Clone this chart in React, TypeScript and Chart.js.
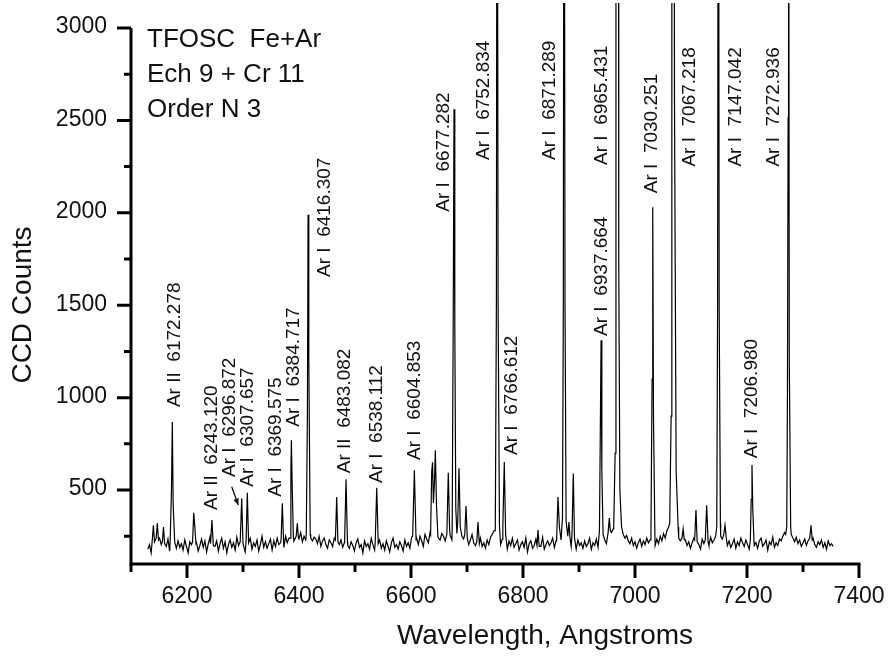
import React, { useEffect, useRef } from "react";
import { Chart, registerables } from "chart.js";

Chart.register(...registerables);

// ---- axis ranges & ticks ----
const xMin = 6100;
const xMax = 7400;
const yMin = 100;
const yMax = 3000;
const xMajorTicks = [6200, 6400, 6600, 6800, 7000, 7200, 7400];
const xMinorTicks = [6100, 6300, 6500, 6700, 6900, 7100, 7300];
const yMajorTicks = [500, 1000, 1500, 2000, 2500, 3000];
const yMinorTicks = [250, 750, 1250, 1750, 2250, 2750];

// ---- continuum (noise) counts, sampled every 3 Å starting at 6130 Å ----
const baselineStart = 6130;
const baselineStep = 3;
const baselineCounts = [
  180, 205, 160, 230, 250, 215, 190, 240, 205, 175, 220, 195, 235, 170, 210, 245, 200, 185, 225, 190,
  210, 175, 230, 195, 160, 220, 205, 240, 185, 215, 170, 200, 235, 190, 225, 165, 210, 245, 180, 205,
  195, 225, 170, 210, 240, 185, 220, 160, 205, 230, 190, 215, 175, 245, 200, 185, 230, 210, 165, 220,
  200, 240, 180, 215, 195, 230, 170, 205, 250, 190, 220, 185, 210, 235, 175, 225, 195, 240, 205, 215,
  230, 190, 250, 215, 240, 205, 260, 225, 245, 210, 235, 270, 220, 250, 230, 215, 260, 240, 225, 245,
  235, 210, 250, 195, 225, 240, 205, 185, 230, 215, 195, 240, 175, 220, 205, 230, 190, 215, 245, 200,
  185, 220, 200, 170, 215, 235, 190, 205, 160, 225, 195, 210, 180, 240, 205, 175, 220, 195, 230, 185,
  210, 175, 225, 195, 165, 215, 240, 190, 205, 180, 220, 200, 170, 230, 195, 215, 185, 245, 210, 225,
  240, 205, 250, 225, 195, 260, 235, 215, 270, 245, 225, 255, 280, 240, 230, 265, 250, 225, 260, 240,
  255, 230, 275, 245, 265, 240, 220, 250, 235, 215, 245, 205, 230, 260, 215, 200, 235, 210, 240, 195,
  215, 185, 230, 205, 245, 260, 280, 235, 250, 220, 205, 235, 195, 215, 180, 225, 200, 240, 190, 210,
  230, 175, 205, 220, 190, 240, 165, 210, 225, 185, 200, 235, 170, 215, 195, 245, 180, 205, 225, 200,
  215, 240, 190, 225, 260, 245, 230, 270, 250, 225, 210, 240, 195, 220, 205, 180, 230, 200, 215, 185,
  225, 195, 210, 240, 180, 215, 200, 235, 190, 220, 245, 205, 230, 210, 255, 235, 270, 290, 310, 330,
  320, 300, 275, 260, 240, 255, 225, 210, 240, 200, 220, 185, 215, 235, 195, 225, 205, 240, 215, 230,
  245, 220, 200, 235, 210, 250, 225, 265, 240, 280, 300, 320, 310, 290, 270, 255, 240, 225, 250, 215,
  230, 200, 220, 185, 215, 240, 195, 225, 205, 180, 235, 210, 190, 225, 200, 245, 215, 230, 250, 270,
  280, 250, 235, 215, 245, 200, 225, 190, 210, 235, 185, 220, 200, 240, 215, 195, 230, 205, 180, 225,
  235, 200, 215, 185, 225, 240, 195, 210, 230, 175, 220, 205, 245, 190, 215, 200, 235, 225, 250, 270,
  290, 300, 285, 260, 240, 220, 245, 210, 230, 195, 215, 235, 200, 225, 185, 210, 240, 205, 190, 220,
  205, 230, 190, 215, 180, 225, 200, 210, 195,
];

// ---- emission line profiles: [wavelength Å, counts] ----
const lineProfiles: number[][][] = [
  [[6138, 230], [6140, 310], [6142, 220]],
  [[6145, 240], [6147, 320], [6149, 230]],
  [[6156, 220], [6158, 300], [6160, 210]],
  [[6170, 230], [6172.3, 500], [6173.8, 868], [6175.3, 420], [6178, 220]],
  [[6210, 220], [6212, 377], [6214, 300], [6216, 210]],
  [[6242, 210], [6244.5, 338], [6247, 200]],
  [[6295, 220], [6297.7, 456], [6300, 210]],
  [[6305.5, 220], [6307.7, 485], [6310, 215]],
  [[6368, 230], [6370.2, 429], [6372.5, 220]],
  [[6384, 240], [6385.5, 600], [6386.4, 770], [6388, 500], [6390, 240]],
  [[6395, 250], [6397, 320], [6399, 240]],
  [[6413, 260], [6415, 900], [6416.2, 1990], [6417.5, 1200], [6420, 260]],
  [[6465, 230], [6467.3, 463], [6469.5, 220]],
  [[6481.5, 230], [6484, 559], [6486.5, 220]],
  [[6536, 210], [6538.8, 512], [6541.5, 210]],
  [[6603, 250], [6606, 607], [6609, 230]],
  [[6635, 260], [6637, 600], [6638.5, 650], [6640, 430], [6642, 550], [6643.5, 715], [6645.5, 420], [6648, 250]],
  [[6664, 260], [6666.6, 593], [6669, 280]],
  [[6673.5, 280], [6675.5, 1500], [6676.8, 2560], [6678.2, 1400], [6680, 400]],
  [[6683.5, 330], [6685.7, 618], [6688, 300]],
  [[6696, 260], [6698.2, 413], [6700.5, 240]],
  [[6717.5, 220], [6719.6, 327], [6722, 210]],
  [[6750.5, 280], [6752.5, 1515], [6753.8, 5500], [6755.5, 1515], [6758, 300]],
  [[6764, 300], [6766.6, 652], [6769, 260]],
  [[6825, 200], [6826.8, 284], [6829, 195]],
  [[6860, 230], [6862.5, 462], [6865, 300]],
  [[6870.5, 350], [6872, 1515], [6873.4, 5500], [6875, 1515], [6877, 330]],
  [[6880, 250], [6882, 327], [6884, 240]],
  [[6887.5, 260], [6889.8, 590], [6892, 240]],
  [[6936.5, 280], [6938, 800], [6939.4, 1310], [6940.8, 600], [6943, 260]],
  [[6952, 270], [6954.1, 348], [6956, 280]],
  [[6962, 300], [6964.5, 700], [6966, 6000], [6970, 6000], [6971, 1714], [6973, 500], [6976, 300]],
  [[7028.5, 280], [7030.5, 1100], [7031.7, 2030], [7033, 900], [7035.5, 260]],
  [[7062, 320], [7064.5, 900], [7065.8, 6000], [7069, 6000], [7070.5, 2616], [7072, 1590], [7073.5, 600], [7077, 300]],
  [[7084, 240], [7086, 290], [7088, 230]],
  [[7106.5, 230], [7108.9, 392], [7111, 220]],
  [[7125.5, 230], [7128, 418], [7130.5, 220]],
  [[7146, 300], [7147.5, 1500], [7148.9, 5500], [7150.3, 1500], [7152.5, 320]],
  [[7158.5, 260], [7160.7, 310], [7163, 240]],
  [[7206, 230], [7207.5, 450], [7208.9, 635], [7210.3, 400], [7212.5, 220]],
  [[7269, 260], [7271, 300], [7272.2, 1000], [7273.4, 2514], [7274.2, 5000], [7275.5, 1200], [7278, 300]],
  [[7312, 240], [7314.3, 310], [7316.5, 230]],
];

// ---- line identifications: text, anchor wavelength, anchor counts (text start) ----
const lineLabelText = [
  "Ar II  6172.278", "Ar II  6243.120", "Ar I  6296.872", "Ar I  6307.657", "Ar I  6369.575",
  "Ar I  6384.717", "Ar I  6416.307", "Ar II  6483.082", "Ar I  6538.112", "Ar I  6604.853",
  "Ar I  6677.282", "Ar I  6752.834", "Ar I  6766.612", "Ar I  6871.289", "Ar I  6937.664",
  "Ar I  6965.431", "Ar I  7030.251", "Ar I  7067.218", "Ar I  7147.042", "Ar I  7272.936",
  "Ar I  7206.980",
];
const lineLabelWavelength = [
  6178.6, 6244.1, 6276.8, 6307.7, 6358.4,
  6389.8, 6446.4, 6482.1, 6538.8, 6605.9,
  6657.7, 6730.4, 6779.8, 6848.2, 6940.5,
  6940.5, 7029.8, 7098.2, 7179.8, 7247.0,
  7208.4,
];
const lineLabelCounts = [
  949, 392, 571, 518, 464,
  843, 1653, 591, 538, 663,
  2006, 2286, 690, 2286, 1334,
  2259, 2106, 2250, 2250, 2250,
  672,
];
const arrowFrom = [6279.8, 518];
const arrowTo = [6291.6, 419];

const infoLines = ["TFOSC  Fe+Ar", "Ech 9 + Cr 11", "Order N 3"];
const xTitle = "Wavelength, Angstroms";
const yTitle = "CCD Counts";

function buildSpectrum() {
  const pts: { x: number; y: number }[] = [];
  baselineCounts.forEach((c, i) => {
    const x = baselineStart + i * baselineStep;
    const inside = lineProfiles.some((p) => x >= p[0][0] && x <= p[p.length - 1][0]);
    if (!inside) pts.push({ x, y: c });
  });
  lineProfiles.forEach((p) => p.forEach(([x, y]) => pts.push({ x, y })));
  pts.sort((a, b) => a.x - b.x);
  return pts;
}

const FONT = "'Liberation Sans', Arial, sans-serif";

const decorPlugin = {
  id: "decor",
  afterDatasetsDraw(chart: any) {
    const ctx = chart.ctx as CanvasRenderingContext2D;
    const xs = chart.scales.x;
    const ys = chart.scales.y;
    const { left, right, top, bottom } = chart.chartArea;
    ctx.save();
    ctx.strokeStyle = "#000";
    ctx.fillStyle = "#000";
    ctx.lineWidth = 3;
    ctx.lineCap = "butt";
    // axes lines
    ctx.beginPath();
    ctx.moveTo(left, top);
    ctx.lineTo(left, bottom + 1.5);
    ctx.moveTo(left - 1.5, bottom);
    ctx.lineTo(right + 1.5, bottom);
    ctx.stroke();
    // ticks
    ctx.beginPath();
    xMajorTicks.forEach((v) => {
      const px = xs.getPixelForValue(v);
      ctx.moveTo(px, bottom);
      ctx.lineTo(px, bottom + 14);
    });
    xMinorTicks.forEach((v) => {
      const px = xs.getPixelForValue(v);
      ctx.moveTo(px, bottom);
      ctx.lineTo(px, bottom + 8);
    });
    yMajorTicks.forEach((v) => {
      const py = ys.getPixelForValue(v);
      ctx.moveTo(left, py);
      ctx.lineTo(left - 14, py);
    });
    yMinorTicks.forEach((v) => {
      const py = ys.getPixelForValue(v);
      ctx.moveTo(left, py);
      ctx.lineTo(left - 7, py);
    });
    ctx.stroke();

    // tick labels
    ctx.fillStyle = "#111";
    ctx.font = `23px ${FONT}`;
    ctx.textAlign = "center";
    ctx.textBaseline = "middle";
    xMajorTicks.forEach((v) => {
      ctx.fillText(String(v), xs.getPixelForValue(v), bottom + 33);
    });
    ctx.textAlign = "right";
    yMajorTicks.forEach((v) => {
      ctx.fillText(String(v), left - 24, ys.getPixelForValue(v) - 1);
    });

    // axis titles
    ctx.font = `28px ${FONT}`;
    ctx.textAlign = "center";
    ctx.fillText(xTitle, 545, bottom + 72);
    ctx.save();
    ctx.translate(23, 305);
    ctx.rotate(-Math.PI / 2);
    ctx.fillText(yTitle, 0, 0);
    ctx.restore();

    // info text
    ctx.font = `26px ${FONT}`;
    ctx.textAlign = "left";
    ctx.textBaseline = "alphabetic";
    infoLines.forEach((t, i) => ctx.fillText(t, left + 16, top + 19 + i * 35));

    // line identifications
    ctx.font = `19px ${FONT}`;
    ctx.textBaseline = "middle";
    lineLabelText.forEach((t, i) => {
      ctx.save();
      ctx.translate(xs.getPixelForValue(lineLabelWavelength[i]), ys.getPixelForValue(lineLabelCounts[i]));
      ctx.rotate(-Math.PI / 2);
      ctx.fillText(t, 0, 0);
      ctx.restore();
    });

    // arrow
    const ax0 = xs.getPixelForValue(arrowFrom[0]);
    const ay0 = ys.getPixelForValue(arrowFrom[1]);
    const ax1 = xs.getPixelForValue(arrowTo[0]);
    const ay1 = ys.getPixelForValue(arrowTo[1]);
    ctx.lineWidth = 1.2;
    ctx.beginPath();
    ctx.moveTo(ax0, ay0);
    ctx.lineTo(ax1, ay1);
    ctx.stroke();
    const ang = Math.atan2(ay1 - ay0, ax1 - ax0);
    ctx.beginPath();
    ctx.moveTo(ax1, ay1);
    ctx.lineTo(ax1 - 7 * Math.cos(ang - 0.4), ay1 - 7 * Math.sin(ang - 0.4));
    ctx.lineTo(ax1 - 7 * Math.cos(ang + 0.4), ay1 - 7 * Math.sin(ang + 0.4));
    ctx.closePath();
    ctx.fill();
    ctx.restore();
  },
};

export default function App() {
  const canvasRef = useRef<HTMLCanvasElement | null>(null);
  useEffect(() => {
    const canvas = canvasRef.current;
    if (!canvas) return;
    const chart = new Chart(canvas, {
      type: "line",
      data: {
        datasets: [
          {
            data: buildSpectrum(),
            borderColor: "#000",
            borderWidth: 1.2,
            pointRadius: 0,
            tension: 0,
            fill: false,
            clip: { left: 2, top: 25, right: 2, bottom: 2 } as any,
          },
        ],
      },
      options: {
        responsive: false,
        animation: false,
        devicePixelRatio: 1,
        parsing: false as any,
        normalized: true,
        layout: { padding: { left: 131, top: 28, right: 30, bottom: 93 } },
        plugins: { legend: { display: false }, tooltip: { enabled: false }, title: { display: false } },
        scales: {
          x: { type: "linear", min: xMin, max: xMax, display: false },
          y: { type: "linear", min: yMin, max: yMax, display: false },
        },
      },
      plugins: [decorPlugin],
    });
    return () => chart.destroy();
  }, []);
  return (
    <div style={{ position: "fixed", left: 0, top: 0, width: 889, height: 657, background: "#fff" }}>
      <canvas ref={canvasRef} width={889} height={657} style={{ display: "block" }} />
    </div>
  );
}
